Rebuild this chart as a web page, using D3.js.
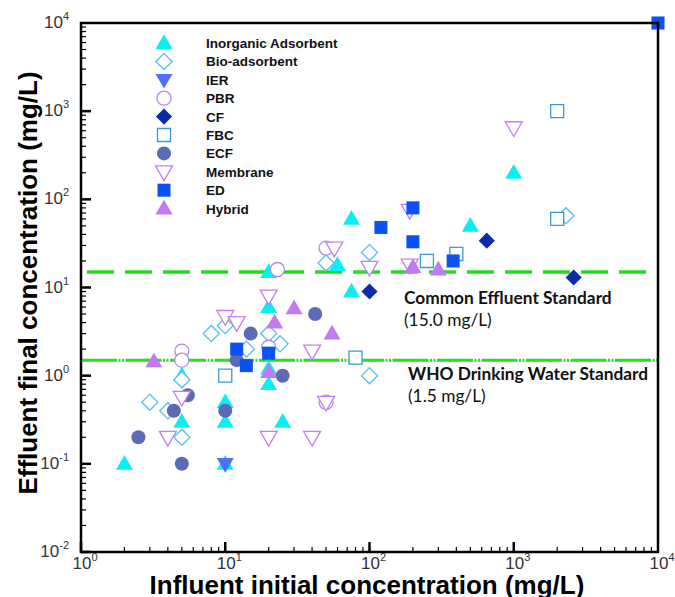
<!DOCTYPE html>
<html>
<head>
<meta charset="utf-8">
<script src="https://cdn.jsdelivr.net/npm/d3@7.9.0/dist/d3.min.js"></script>
<style>
  body { margin: 0; background: #fff; }
  svg { display: block; }
  .tick-label { font-family: "Liberation Sans", Arial, sans-serif; font-size: 17px; fill: #333; }
  .axis-title { font-family: "Liberation Sans", Arial, sans-serif; font-size: 26px; font-weight: bold; fill: #000; }
  .legend-text { font-family: "Liberation Sans", Arial, sans-serif; font-size: 13.5px; font-weight: bold; fill: #111; }
  .note { font-family: Lato, "Open Sans", sans-serif; font-size: 17.3px; fill: #111; }
</style>
</head>
<body>
<svg width="675" height="597"></svg>
<script>
// influent (mg/L), effluent (mg/L) pairs
const inorganic = [[2,0.1],[5,0.3],[5,1.0],[10,0.5],[10,0.3],[10,0.1],[20,0.8],[20,1.2],[20,6],[20,15],[25,0.3],[60,18],[75,9],[75,60],[500,50],[1000,200]];
const bioAdsorbent = [[3,0.5],[4,0.4],[5,0.9],[5,0.2],[8,3],[10,3.7],[14,2],[20,3],[24,2.3],[50,19],[100,25],[100,1.0],[2300,65]];
const ier = [[10,0.1]];
const pbr = [[5,1.9],[5,1.5],[20,2.1],[23,16],[50,28],[50,0.5]];
const cf = [[100,9],[650,34],[2600,13]];
const fbc = [[10,1.0],[80,1.6],[250,20],[400,24],[2000,1000],[2000,60]];
const ecf = [[2.5,0.2],[4.4,0.4],[5.5,0.6],[5,0.1],[10,0.4],[12,1.5],[15,3],[25,1.0],[42,5]];
const membrane = [[4,0.2],[5,0.57],[10,4.7],[12,4],[20,8],[20,0.2],[40,1.9],[40,0.2],[50,0.5],[57,28],[100,17],[190,75],[190,18],[1000,650]];
const ed = [[12,2],[14,1.3],[20,1.8],[120,48],[200,80],[200,33],[380,20],[10000,10000]];
const hybrid = [[3.2,1.45],[20,1.1],[22,4],[30,5.8],[55,3],[200,17],[300,16]];

const seriesNames = ['Inorganic Adsorbent','Bio-adsorbent','IER','PBR','CF','FBC','ECF','Membrane','ED','Hybrid'];
const seriesData = [inorganic, bioAdsorbent, ier, pbr, cf, fbc, ecf, membrane, ed, hybrid];
const standards = [15, 1.5];

// marker style per series
const styles = [
  {shape: 'triUp',   fill: '#08eef2', stroke: 'none'},
  {shape: 'diamond', fill: '#fff',    stroke: '#55bff2'},
  {shape: 'triDown', fill: '#4f70f2', stroke: 'none'},
  {shape: 'circle',  fill: '#fff',    stroke: '#b088f5'},
  {shape: 'diamond', fill: '#0b2ca6', stroke: 'none'},
  {shape: 'square',  fill: '#fff',    stroke: '#3b9ad8'},
  {shape: 'circle',  fill: '#5d6bb4', stroke: 'none'},
  {shape: 'triDown', fill: '#fff',    stroke: '#c57ef5'},
  {shape: 'square',  fill: '#0a52f4', stroke: 'none'},
  {shape: 'triUp',   fill: '#c27af2', stroke: 'none'}
];

const svg = d3.select('svg');
const x = d3.scaleLog().domain([1, 1e4]).range([81, 658]);
const y = d3.scaleLog().domain([1e-2, 1e4]).range([552, 23]);

function markerPath(shape) {
  if (shape === 'triUp' || shape === 'triDown') return d3.symbol(d3.symbolTriangle, 125)();
  if (shape === 'circle') return d3.symbol(d3.symbolCircle, 155)();
  if (shape === 'square') return d3.symbol(d3.symbolSquare, 170)();
  return d3.symbol(d3.symbolSquare, 130)(); // rotated to diamond
}
function markerTransform(shape, px, py) {
  let t = `translate(${px},${py})`;
  if (shape === 'triDown') t += ' rotate(180)';
  if (shape === 'diamond') t += ' rotate(45)';
  if (shape === 'triUp' || shape === 'triDown') t += ' translate(0,1)';
  return t;
}

// standard lines
svg.append('line')
  .attr('x1', x(1)).attr('x2', x(1e4))
  .attr('y1', y(standards[0])).attr('y2', y(standards[0]))
  .attr('stroke', '#1ee01e').attr('stroke-width', 3.5)
  .attr('stroke-dasharray', '27,11').attr('stroke-dashoffset', -6);
svg.append('line')
  .attr('x1', x(1)).attr('x2', x(1e4))
  .attr('y1', y(standards[1])).attr('y2', y(standards[1]))
  .attr('stroke', '#1ee41e').attr('stroke-width', 3)
  .attr('stroke-dasharray', '36,1.5,2,1.5,2,1.5');

// notes
const notes = svg.append('g').attr('class', 'note');
notes.append('text').attr('x', 404).attr('y', 304).attr('font-weight', 'bold').text('Common Effluent Standard');
notes.append('text').attr('x', 404).attr('y', 326).text('(15.0 mg/L)');
notes.append('text').attr('x', 408).attr('y', 380).attr('font-weight', 'bold').text('WHO Drinking Water Standard');
notes.append('text').attr('x', 408).attr('y', 402).text('(1.5 mg/L)');

// points
seriesData.forEach((data, i) => {
  const st = styles[i];
  svg.append('g').selectAll('path')
    .data(data)
    .enter()
    .append('path')
    .attr('d', markerPath(st.shape))
    .attr('transform', d => markerTransform(st.shape, x(d[0]), y(d[1])))
    .attr('fill', st.fill)
    .attr('stroke', st.stroke)
    .attr('stroke-width', 1.3);
});

// legend
const legend = svg.append('g');
seriesNames.forEach((name, i) => {
  const st = styles[i];
  const ly = 43 + i * 18.4;
  legend.append('path')
    .attr('d', markerPath(st.shape))
    .attr('transform', markerTransform(st.shape, 164, ly))
    .attr('fill', st.fill)
    .attr('stroke', st.stroke)
    .attr('stroke-width', 1.3);
  legend.append('text').attr('class', 'legend-text')
    .attr('x', 206).attr('y', ly + 5).text(name);
});

// ticks (inward, bottom and left)
const ticks = svg.append('g').attr('stroke', '#000');
for (let d = 0; d < 4; d++) {
  for (let k = 1; k < 10; k++) {
    const v = k * Math.pow(10, d);
    const len = k === 1 ? 10 : 5;
    ticks.append('line').attr('x1', x(v)).attr('x2', x(v))
      .attr('y1', 552).attr('y2', 552 - len).attr('stroke-width', k === 1 ? 2.5 : 1.2);
  }
}
for (let d = -2; d < 4; d++) {
  for (let k = 1; k < 10; k++) {
    const v = k * Math.pow(10, d);
    const len = k === 1 ? 10 : 5;
    ticks.append('line').attr('y1', y(v)).attr('y2', y(v))
      .attr('x1', 81).attr('x2', 81 + len).attr('stroke-width', k === 1 ? 2.5 : 1.2);
  }
}

// frame
svg.append('rect')
  .attr('x', 81).attr('y', 23).attr('width', 577).attr('height', 529)
  .attr('fill', 'none').attr('stroke', '#000').attr('stroke-width', 2.5);

// tick labels
const xTicks = [0, 1, 2, 3, 4];
const yTicks = [-2, -1, 0, 1, 2, 3, 4];
xTicks.forEach(e => {
  const t = svg.append('text').attr('class', 'tick-label')
    .attr('x', x(Math.pow(10, e)) + 4).attr('y', 569).attr('text-anchor', 'middle');
  t.append('tspan').text('10');
  t.append('tspan').attr('font-size', 11).attr('dy', -8).text(e);
});
yTicks.forEach(e => {
  const t = svg.append('text').attr('class', 'tick-label')
    .attr('x', 69).attr('y', y(Math.pow(10, e)) + 5).attr('text-anchor', 'end');
  t.append('tspan').text('10');
  t.append('tspan').attr('font-size', 11).attr('dy', -8).text(e);
});

// axis titles
svg.append('text').attr('class', 'axis-title')
  .attr('x', 367).attr('y', 594).attr('text-anchor', 'middle')
  .attr('font-size', 25.5)
  .text('Influent initial concentration (mg/L)');
svg.append('text').attr('class', 'axis-title')
  .attr('transform', 'translate(37,283) rotate(-90)').attr('text-anchor', 'middle')
  .text('Effluent final concentration (mg/L)');
</script>
</body>
</html>
